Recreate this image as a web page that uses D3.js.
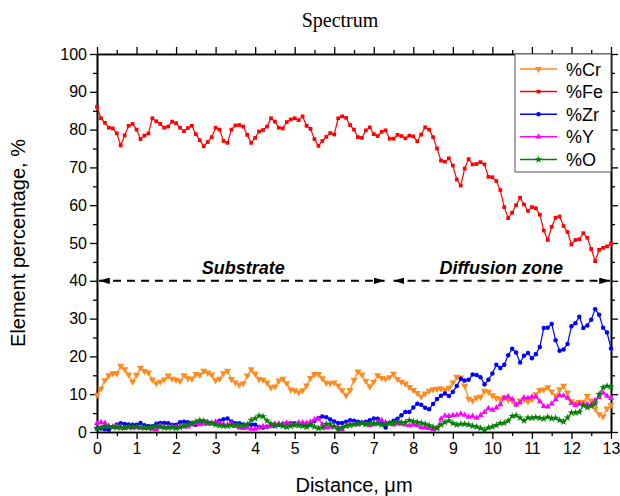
<!DOCTYPE html>
<html lang="en">
<head>
<meta charset="UTF-8">
<title>Spectrum</title>
<script src="https://cdn.jsdelivr.net/npm/d3@7/dist/d3.min.js"></script>
<style>
  body { margin: 0; background: #fff; }
  svg { display: block; }
  .tick text { font-family: "Liberation Sans", Arial, sans-serif; font-size: 16px; fill: #000; }
  .tick line { stroke: #000; stroke-width: 1.3px; }
  .domain { stroke: #000; stroke-width: 1.6px; }
</style>
</head>
<body>
<div id="chart"></div>
<script>
// distance along the line scan, um (0.1 um steps)
const distance = d3.range(131).map(i => i / 10);

const cr = [
  9.8, 11.5, 13.7, 15, 15.5, 15.5, 17.5, 16.6, 15.2, 13.3,
  15.1, 17, 16.1, 15.7, 13.9, 12.9, 13.3, 13.9, 14.9, 14.1,
  13.8, 13.5, 15, 14.2, 14.1, 15.3, 15.1, 16.2, 15.7, 15.2,
  13.7, 14.1, 15.5, 16.2, 14, 13.1, 12.5, 12.9, 14.9, 16.6,
  15.4, 14, 13.8, 13.1, 11.8, 12, 13.6, 14.1, 12.9, 11.2,
  11, 10.5, 11, 12.3, 14.3, 15.3, 15.3, 14.2, 13, 12.9,
  13.1, 12.3, 11, 9.7, 11.1, 13.8, 16, 15.2, 13.5, 12,
  13.3, 15, 14.3, 14.1, 14.5, 15.4, 14, 13.3, 12.8, 11.9,
  11.1, 10.3, 9.4, 10.2, 10.9, 11.3, 11.4, 11.5, 11.1, 11.7,
  13.1, 14.6, 14.4, 12.2, 8.8, 8.3, 9.1, 9.3, 10.9, 10.6,
  9.7, 9, 8.7, 9.2, 8.5, 8.3, 7.3, 8.3, 8.6, 8.1,
  8.6, 10, 11.1, 11.2, 11.8, 10.7, 9.6, 11.3, 12.2, 10.4,
  8.1, 7.6, 7.9, 8, 9.5, 8.3, 6.2, 4.7, 4.1, 6.2,
  7.1
];

const fe = [
  86, 83, 81.8, 80.5, 80.3, 79, 75.8, 78.5, 81, 81.5,
  80, 77.5, 78.4, 79, 83, 82.2, 81.5, 80.5, 80.8, 82.1,
  81.7, 80.5, 79.6, 80.4, 81, 78.8, 77.2, 75.6, 76.7, 78,
  80.5, 80, 77, 76.5, 80, 81.1, 81.2, 80.8, 78.6, 76.5,
  77.8, 79.5, 79.9, 80.8, 83, 82.1, 80.5, 80.3, 82, 82.7,
  83, 82.5, 83.5, 81, 80.2, 77.5, 75.7, 77, 78.1, 79.1,
  78.7, 83, 83.5, 83.1, 81.2, 80, 78, 77.8, 79.8, 80.6,
  78.8, 78.3, 79.4, 79.8, 77.6, 77.6, 78.6, 78.3, 77.7, 78.4,
  78.2, 76.9, 78.7, 80.6, 80, 78, 75, 71.8, 71.5, 72.4,
  70.5, 66.8, 65.2, 69.7, 72.2, 70.8, 70.9, 71.4, 70.8, 67.5,
  67.4, 66.4, 64, 59.5, 56.6, 58, 60, 62, 60.2, 58.5,
  59.5, 59.2, 57.5, 53.3, 50.8, 54.3, 56.7, 57, 54.5, 52.9,
  49.6, 50.8, 51, 52.6, 51.4, 48.4, 45.2, 48.2, 48.7, 49.1,
  49.9
];

const zr = [
  1, 0.9, 0.7, 0.6, 1.3, 2, 2.3, 2.1, 2, 1.9,
  1.9, 2.4, 1.8, 1.6, 1.5, 2.2, 2.4, 2.4, 2.3, 1.9,
  1.9, 2.6, 2.7, 2.6, 2.3, 1.9, 2.4, 2.7, 2.5, 2.3,
  2.5, 3, 3.4, 3.6, 2.8, 2.3, 2.3, 2, 1.9, 1.9,
  1.9, 1.3, 1.2, 1.4, 1.6, 1.9, 1.9, 2.1, 2.3, 2.3,
  2.3, 2, 1.9, 1.6, 2.1, 2.9, 3.7, 4.1, 3.9, 3.3,
  2.8, 2.4, 2.4, 2.7, 3.1, 3, 2.7, 2.5, 2.7, 3.1,
  3.6, 3.5, 2.4, 1.2, 2.4, 3, 3.5, 4.4, 5.3, 5.3,
  6.5, 7.5, 7.2, 6.4, 6, 7.4, 8.7, 9.6, 10.2, 9.5,
  10.6, 12.2, 14.1, 13.6, 13.8, 15.2, 15.1, 14.5, 12.6, 13.8,
  15.5, 17.8, 16.9, 17.8, 20.3, 22, 21, 18.4, 20.2, 20.9,
  19.5, 20.6, 22.5, 27.5, 27.6, 28.6, 24.3, 21.5, 21.8, 23.3,
  28, 28.8, 30.5, 27.5, 28.2, 29.7, 32.5, 31, 27.6, 26.3,
  22.1
];

const yt = [
  2.3, 2.6, 2.4, 1.5, 1.3, 1.7, 1.4, 1, 1.2, 1.2,
  1.2, 1.1, 1, 1, 0.8, 0.6, 1.7, 1.4, 1.3, 1.5,
  1.3, 1.5, 1.4, 1.4, 1.9, 2.3, 2, 2.2, 2.1, 2.3,
  2.7, 2.4, 2.1, 1.9, 2.3, 1.5, 1.1, 1, 1.1, 0.8,
  0.8, 1.1, 1.5, 1.4, 1.5, 2.2, 2.2, 2.2, 2.4, 2.1,
  2, 2.5, 2.5, 2.4, 2.7, 3.3, 3.5, 2, 1.1, 1.3,
  1.5, 1.2, 0.6, 1.6, 2.2, 2.1, 2, 2.4, 2.2, 1.8,
  2, 2.6, 3.1, 2.5, 2.1, 1.9, 2.2, 2.1, 1.9, 1.7,
  1.9, 1.7, 1.2, 1.1, 1, 0.6, 1, 3.5, 4.3, 4.2,
  4.4, 4.5, 4.8, 4.5, 4, 4.2, 3.7, 4.4, 5.2, 6.3,
  5.8, 6.4, 7.3, 9, 9.4, 8.7, 7.2, 7.8, 9.1, 9,
  9.3, 9.3, 8.1, 6.8, 6.7, 7.5, 8.6, 9.7, 9.6, 9,
  7.7, 7.1, 7.5, 7.3, 7.4, 7.2, 8.4, 9.2, 10.4, 9.5,
  8.9
];

const ox = [
  1, 1.2, 1.5, 1.5, 1.3, 1.2, 1.1, 1.1, 1.3, 1.2,
  1.4, 1.2, 1.1, 1.1, 1.2, 1.5, 1.3, 1.1, 1.1, 1.2,
  1, 1.2, 1.7, 2, 2.2, 2.7, 3.1, 3, 2.6, 2.3,
  1.9, 1.7, 1.6, 1.6, 1.8, 2, 1.8, 1.7, 2, 3.2,
  3.6, 4.3, 4.1, 3, 2.2, 1.6, 1.9, 1.6, 1.3, 1.6,
  1.8, 1.7, 1.6, 1.3, 1.8, 1.4, 1, 1.1, 2.1, 2.1,
  1.4, 0.6, 1.2, 1.6, 1.8, 2, 2.2, 2.3, 2, 2.3,
  2.4, 2.2, 1.9, 2.1, 2.4, 2.4, 2.7, 2.5, 2.6, 3.1,
  2.8, 2.6, 2.4, 2.1, 1.7, 1.3, 1, 1.9, 2.6, 3,
  2.3, 1.9, 2.1, 2.1, 1.9, 1.6, 1.4, 1, 0.5, 1.1,
  1.4, 1.8, 2.3, 2.4, 3, 4.2, 4.4, 3.8, 3, 3.8,
  3.7, 3.9, 3.7, 3.5, 4, 3.6, 3.7, 3.1, 2.7, 3.8,
  5.1, 5.1, 5.3, 7, 6.5, 6.9, 7.5, 10, 11.8, 12.2,
  12
];

const seriesNames = ["%Cr", "%Fe", "%Zr", "%Y", "%O"];
const seriesValues = [cr, fe, zr, yt, ox];

// zone annotation (arrows at 40 %)
const zoneLabels = ["Substrate", "Diffusion zone"];
const zoneStart = [0, 7.45];
const zoneEnd = [7.3, 13];
const zoneLevel = 40;

const xTicks = d3.range(0, 14);
const yTicks = d3.range(0, 101, 10);

// styles
const colors = ["#ff8a1e", "#ff0000", "#0000ff", "#ff00ff", "#008000"];
const symbols = [
  d3.symbolTriangle, d3.symbolSquare, d3.symbolCircle, d3.symbolTriangle, d3.symbolStar
];
const symbolSizes = [22, 14, 16, 16, 18];
const symbolRotate = [180, 0, 0, 0, 0];

const W = 620, H = 496;
const margin = { top: 54, right: 9, bottom: 64, left: 97 };
const iw = W - margin.left - margin.right;
const ih = H - margin.top - margin.bottom;

const svg = d3.select("#chart").append("svg")
  .attr("width", W)
  .attr("height", H);

const x = d3.scaleLinear().domain([0, 13]).range([0, iw]);
const y = d3.scaleLinear().domain([0, 100]).range([ih, 0]);

const g = svg.append("g").attr("transform", `translate(${margin.left},${margin.top})`);

// axes: major and minor ticks on all four sides
const minorX = d3.range(0.5, 13, 1);
const minorY = d3.range(5, 100, 10);

g.append("g").attr("transform", `translate(0,${ih})`)
  .call(d3.axisBottom(x).tickValues(xTicks).tickSize(7).tickPadding(4).tickSizeOuter(0));
g.append("g").attr("transform", `translate(0,${ih})`)
  .call(d3.axisBottom(x).tickValues(minorX).tickSize(4).tickFormat("").tickSizeOuter(0));
g.append("g")
  .call(d3.axisTop(x).tickValues(xTicks).tickSize(7).tickFormat("").tickSizeOuter(0));
g.append("g")
  .call(d3.axisTop(x).tickValues(minorX).tickSize(4).tickFormat("").tickSizeOuter(0));

g.append("g")
  .call(d3.axisLeft(y).tickValues(yTicks).tickSize(7).tickPadding(3).tickSizeOuter(0));
g.append("g")
  .call(d3.axisLeft(y).tickValues(minorY).tickSize(4).tickFormat("").tickSizeOuter(0));
g.append("g").attr("transform", `translate(${iw},0)`)
  .call(d3.axisRight(y).tickValues(yTicks).tickSize(7).tickFormat("").tickSizeOuter(0));
g.append("g").attr("transform", `translate(${iw},0)`)
  .call(d3.axisRight(y).tickValues(minorY).tickSize(4).tickFormat("").tickSizeOuter(0));

// series
const line = d3.line().x((d, i) => x(distance[i])).y(d => y(d));

seriesValues.forEach((vals, s) => {
  const sg = g.append("g");
  sg.append("path")
    .datum(vals)
    .attr("fill", "none")
    .attr("stroke", colors[s])
    .attr("stroke-width", 1.2)
    .attr("d", line);
  sg.selectAll("path.m")
    .data(vals)
    .enter().append("path")
    .attr("class", "m")
    .attr("d", d3.symbol().type(symbols[s]).size(symbolSizes[s]))
    .attr("fill", colors[s])
    .attr("transform", (d, i) => `translate(${x(distance[i])},${y(d)}) rotate(${symbolRotate[s]})`);
});

// zone arrows
const defs = svg.append("defs");
defs.append("marker")
  .attr("id", "head")
  .attr("viewBox", "0 0 10 6")
  .attr("refX", 10).attr("refY", 3)
  .attr("markerWidth", 11).attr("markerHeight", 6.5)
  .attr("markerUnits", "userSpaceOnUse")
  .attr("orient", "auto-start-reverse")
  .append("path").attr("d", "M0,0L10,3L0,6Z").attr("fill", "#000");

zoneLabels.forEach((lab, i) => {
  g.append("line")
    .attr("x1", x(zoneStart[i]) + 2).attr("x2", x(zoneEnd[i]) - 1)
    .attr("y1", y(zoneLevel)).attr("y2", y(zoneLevel))
    .attr("stroke", "#000")
    .attr("stroke-width", 2)
    .attr("stroke-dasharray", "8,6")
    .attr("marker-start", "url(#head)")
    .attr("marker-end", "url(#head)");
  g.append("text")
    .attr("x", (x(zoneStart[i]) + x(zoneEnd[i])) / 2 + (i === 0 ? 2 : 0))
    .attr("y", y(zoneLevel) - 7)
    .attr("text-anchor", "middle")
    .style("font-family", "Liberation Sans, Arial, sans-serif")
    .style("font-size", "18px")
    .style("font-weight", "bold")
    .style("font-style", "italic")
    .text(lab);
});

// legend
const lg = g.append("g").attr("transform", `translate(${iw - 96},0)`);
lg.append("rect")
  .attr("width", 96).attr("height", 118)
  .attr("fill", "#fff")
  .attr("stroke", "#555")
  .attr("stroke-width", 1);
seriesNames.forEach((name, s) => {
  const row = lg.append("g").attr("transform", `translate(0,${15 + s * 22.6})`);
  row.append("line")
    .attr("x1", 5).attr("x2", 42)
    .attr("stroke", colors[s]).attr("stroke-width", 1.5);
  row.append("path")
    .attr("d", d3.symbol().type(symbols[s]).size(symbolSizes[s]))
    .attr("fill", colors[s])
    .attr("transform", `translate(23.5,0) rotate(${symbolRotate[s]})`);
  row.append("text")
    .attr("x", 51).attr("y", 6.5)
    .style("font-family", "Liberation Sans, Arial, sans-serif")
    .style("font-size", "18px")
    .text(name);
});

// titles
svg.append("text")
  .attr("x", margin.left + iw / 2 - 14).attr("y", 27)
  .attr("text-anchor", "middle")
  .style("font-family", "Liberation Serif, Times New Roman, serif")
  .style("font-size", "20px")
  .text("Spectrum");

svg.append("text")
  .attr("x", margin.left + iw / 2).attr("y", 492)
  .attr("text-anchor", "middle")
  .style("font-family", "Liberation Sans, Arial, sans-serif")
  .style("font-size", "20px")
  .text("Distance, \u03bcm");

svg.append("text")
  .attr("transform", `translate(25,${margin.top + ih / 2}) rotate(-90)`)
  .attr("text-anchor", "middle")
  .style("font-family", "Liberation Sans, Arial, sans-serif")
  .style("font-size", "20px")
  .text("Element percentage, %");
</script>
</body>
</html>
